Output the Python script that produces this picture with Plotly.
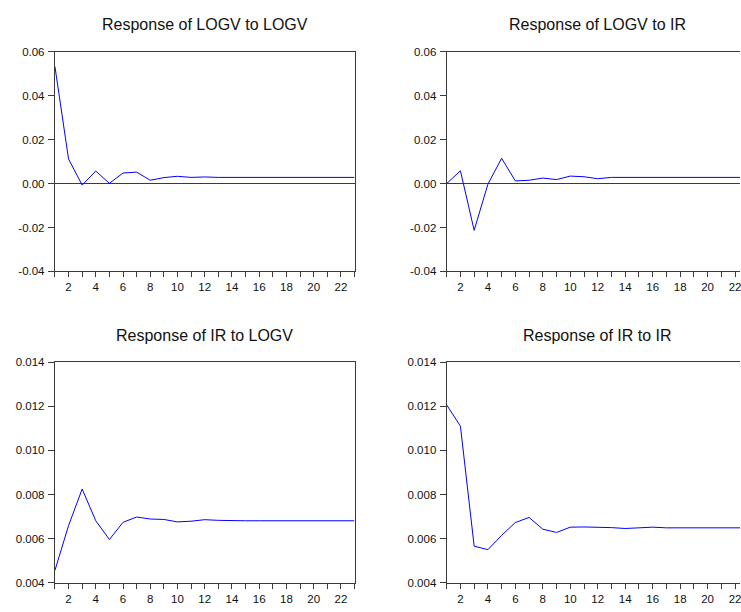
import plotly.graph_objects as go

# Impulse responses over 23 periods
periods = list(range(1, 24))

logv_to_logv = [0.0533, 0.0112, -0.0007, 0.0057, 0.0001, 0.0048, 0.0052, 0.0015,
                0.0027, 0.0033, 0.0028, 0.0030, 0.0028, 0.0028, 0.0028, 0.0028,
                0.0028, 0.0028, 0.0028, 0.0028, 0.0028, 0.0028, 0.0028]
logv_to_ir = [0.0000, 0.0058, -0.0213, -0.0003, 0.0115, 0.0012, 0.0015, 0.0025,
              0.0018, 0.0034, 0.0031, 0.0022, 0.0028, 0.0028, 0.0028, 0.0028,
              0.0028, 0.0028, 0.0028, 0.0028, 0.0028, 0.0028, 0.0028]
ir_to_logv = [0.00456, 0.00659, 0.00825, 0.00681, 0.00596, 0.00674, 0.00698, 0.00689,
              0.00687, 0.00676, 0.00679, 0.00686, 0.00683, 0.00681, 0.00681, 0.00681,
              0.00681, 0.00681, 0.00681, 0.00681, 0.00681, 0.00681, 0.00681]
ir_to_ir = [0.01206, 0.01110, 0.00566, 0.00550, 0.00615, 0.00673, 0.00696, 0.00643,
            0.00628, 0.00652, 0.00653, 0.00653, 0.00650, 0.00646, 0.00649, 0.00652,
            0.00649, 0.00649, 0.00649, 0.00649, 0.00649, 0.00649, 0.00649]

titles = ["Response of LOGV to LOGV", "Response of LOGV to IR",
          "Response of IR to LOGV", "Response of IR to IR"]

x_tick_vals = list(range(2, 23, 2))
x_tick_text = [str(v) for v in x_tick_vals]

logv_tick_vals = [-0.04, -0.02, 0.0, 0.02, 0.04, 0.06]
logv_tick_text = ["-0.04", "-0.02", "0.00", "0.02", "0.04", "0.06"]
ir_tick_vals = [0.004, 0.006, 0.008, 0.010, 0.012, 0.014]
ir_tick_text = ["0.004", "0.006", "0.008", "0.010", "0.012", "0.014"]

W, H = 741, 612
FONT = "Arial, Liberation Sans, sans-serif"
AXIS_COLOR = "#3a3a3a"

# panel frames in pixels; the right-hand column runs off the page edge
panels = [
    dict(left=55.0, right=355.0, top=46.7, bottom=270.7, xmax=23.0),
    dict(left=447.3, right=741.0, top=46.7, bottom=270.7, xmax=22.36),
    dict(left=55.0, right=355.0, top=363.3, bottom=588.3, xmax=23.0),
    dict(left=447.3, right=741.0, top=363.3, bottom=588.3, xmax=22.36),
]
series = [logv_to_logv, logv_to_ir, ir_to_logv, ir_to_ir]

fig = go.Figure()
annotations = []
for i, (p, ys, title) in enumerate(zip(panels, series, titles)):
    n = i + 1
    xa = "x" if n == 1 else f"x{n}"
    ya = "y" if n == 1 else f"y{n}"
    fig.add_trace(go.Scatter(x=periods, y=ys, mode="lines",
                             line=dict(color="#0000ff", width=1),
                             xaxis=xa, yaxis=ya, showlegend=False,
                             hoverinfo="skip"))
    top_row = i < 2
    right_col = i % 2 == 1
    yvals = logv_tick_vals if top_row else ir_tick_vals
    ytext = logv_tick_text if top_row else ir_tick_text
    yrange = [-0.04, 0.06] if top_row else [0.004, 0.014]

    xdom = [p["left"] / W, min(p["right"] / W, 1.0)]
    ydom = [(H - p["bottom"]) / H, (H - p["top"]) / H]

    xkey = "xaxis" if n == 1 else f"xaxis{n}"
    ykey = "yaxis" if n == 1 else f"yaxis{n}"
    fig.update_layout({
        xkey: dict(domain=xdom, anchor=ya, range=[1, p["xmax"]],
                   tickvals=x_tick_vals, ticktext=x_tick_text,
                   ticks="outside", ticklen=5, tickwidth=1, tickcolor=AXIS_COLOR,
                   minor=dict(tickvals=periods, ticks="outside", ticklen=5,
                              tickwidth=1, tickcolor=AXIS_COLOR),
                   showline=True, linecolor=AXIS_COLOR, linewidth=1.2,
                   mirror=True, showgrid=False, zeroline=False,
                   ticklabeloverflow="allow",
                   tickfont=dict(family=FONT, size=11.5, color="#111111")),
        ykey: dict(domain=ydom, anchor=xa, range=yrange,
                   tickvals=yvals, ticktext=ytext,
                   ticks="outside", ticklen=6, tickwidth=1, tickcolor=AXIS_COLOR,
                   showline=True, linecolor=AXIS_COLOR, linewidth=1.2,
                   mirror=not right_col, showgrid=False,
                   zeroline=top_row, zerolinecolor=AXIS_COLOR, zerolinewidth=1.2,
                   ticklabelstandoff=1,
                   tickfont=dict(family=FONT, size=11.5, color="#111111")),
    })

    # title centred over the full 23-period panel width
    full_right = p["left"] + (p["right"] - p["left"]) * (23 - 1) / (p["xmax"] - 1)
    cx = (p["left"] + full_right) / 2
    cy = p["top"] - 27.5
    annotations.append(dict(text=title, xref="paper", yref="paper",
                            x=cx / W, y=(H - cy) / H, xanchor="center",
                            yanchor="middle", showarrow=False,
                            font=dict(family=FONT, size=16, color="#111111")))

fig.update_layout(width=W, height=H, margin=dict(l=0, r=0, t=0, b=0),
                  paper_bgcolor="white", plot_bgcolor="white",
                  annotations=annotations)

fig.write_html("out.html")
